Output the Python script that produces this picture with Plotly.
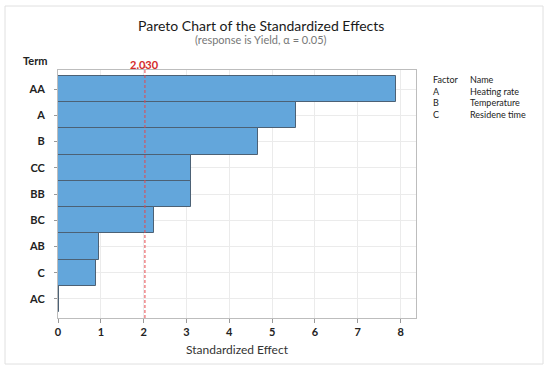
import plotly.graph_objects as go

terms = ["AA", "A", "B", "CC", "BB", "BC", "AB", "C", "AC"]
effects = [7.89, 5.55, 4.68, 3.11, 3.11, 2.23, 0.96, 0.89, 0.03]
critical = 2.030
x_ticks = [0, 1, 2, 3, 4, 5, 6, 7, 8]
factors = ["A", "B", "C"]
names = ["Heating rate", "Temperature", "Residene time"]

W, H = 550, 371
L, R, T, B = 58, 416, 70, 318
pw, ph = R - L, B - T

def px(x):
    return (x - L) / pw

def py(y):
    return (B - y) / ph

FONT = "Lato"

fig = go.Figure()
fig.add_trace(go.Bar(
    x=effects, y=terms, orientation="h",
    marker=dict(color="#63A6DB", line=dict(color="#4C6175", width=1)),
    width=1.0,
    hoverinfo="x+y",
))

fig.update_layout(
    width=W, height=H,
    margin=dict(l=L, r=W - R, t=T, b=H - B),
    paper_bgcolor="white", plot_bgcolor="white",
    showlegend=False,
    font=dict(family=FONT, color="#222"),
    bargap=0,
    xaxis=dict(
        range=[0, 8.36], tickvals=x_ticks, ticks="outside", ticklen=4,
        tickcolor="#999", showgrid=True, gridcolor="#EBEBEB", zeroline=False,
        showline=True, linecolor="#BDBDBD", mirror=True,
        tickfont=dict(size=11, color="#222", family=FONT, weight="bold"),
        title=dict(text="Standardized Effect", font=dict(size=12, color="#333", family=FONT), standoff=8),
        fixedrange=True, automargin=False,
    ),
    yaxis=dict(
        categoryorder="array", categoryarray=terms[::-1],
        range=[-0.73, 8.73], ticks="outside", ticklen=3, tickcolor="#999",
        showgrid=True, gridcolor="#EBEBEB", zeroline=False,
        showline=True, linecolor="#BDBDBD", mirror=True,
        tickfont=dict(size=11, color="#222", family=FONT, weight="bold"),
        ticklabelstandoff=7,
        fixedrange=True, automargin=False,
    ),
)

# critical value line
fig.add_shape(type="line", xref="x", yref="paper", x0=critical, x1=critical,
              y0=0, y1=1.02, line=dict(color="#E5484D", width=1, dash="3px,2px"))

anns = []
anns.append(dict(text="<b>" + f"{critical:.3f}" + "</b>", x=critical, xref="x", y=py(64), yref="paper",
                 showarrow=False, font=dict(size=11, color="#D42A2A"), xanchor="center", yanchor="middle"))
anns.append(dict(text="Pareto Chart of the Standardized Effects",
                 x=px(261), y=py(25), xref="paper", yref="paper", showarrow=False,
                 font=dict(size=14, color="#1a1a1a"), xanchor="center", yanchor="middle"))
anns.append(dict(text="(response is Yield, \u03b1 = 0.05)",
                 x=px(261), y=py(39.5), xref="paper", yref="paper", showarrow=False,
                 font=dict(size=11, color="#777"), xanchor="center", yanchor="middle"))
anns.append(dict(text="<b>Term</b>", x=px(21), y=py(61), xref="paper", yref="paper",
                 showarrow=False, font=dict(size=11, color="#222"), xanchor="left", yanchor="middle"))
anns.append(dict(text="<br>".join(["Factor"] + factors), x=px(431), y=py(71.5), xref="paper", yref="paper",
                 showarrow=False, font=dict(size=9, color="#222"), xanchor="left", yanchor="top",
                 align="left"))
anns.append(dict(text="<br>".join(["Name"] + names), x=px(468), y=py(71.5), xref="paper", yref="paper",
                 showarrow=False, font=dict(size=9, color="#222"), xanchor="left", yanchor="top",
                 align="left"))
fig.update_layout(annotations=anns)

# outer frame
fig.add_shape(type="rect", xref="paper", yref="paper", x0=px(5), x1=px(543), y0=py(364), y1=py(6),
              line=dict(color="#E0E0E0", width=1), layer="below")

fig.write_html("out.html", config={"displayModeBar": False},
               post_script="document.body.style.margin='0';document.body.style.padding='0';")
